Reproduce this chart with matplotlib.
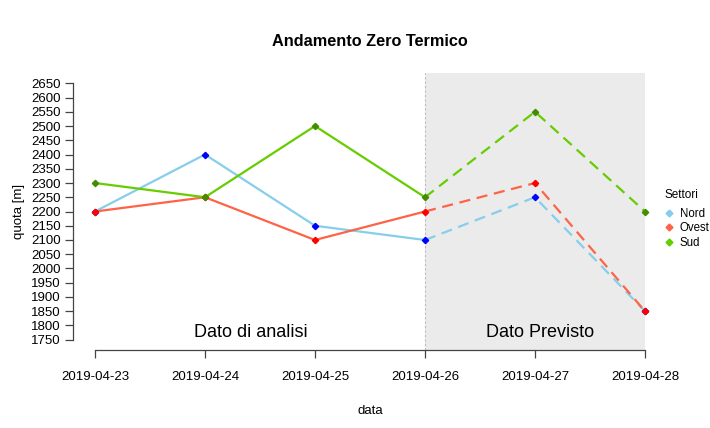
import matplotlib
matplotlib.use("Agg")
import matplotlib.pyplot as plt
from matplotlib.lines import Line2D

plt.rcParams['font.family'] = ['Liberation Sans', 'DejaVu Sans']

dates = ["2019-04-23", "2019-04-24", "2019-04-25", "2019-04-26", "2019-04-27", "2019-04-28"]
nord = [2200, 2400, 2150, 2100, 2250, 1850]
ovest = [2200, 2250, 2100, 2200, 2300, 1850]
sud = [2300, 2250, 2500, 2250, 2550, 2200]
series_names = ["Nord", "Ovest", "Sud"]
line_colors = ["#87CEEB", "#FF6347", "#66CD00"]
point_colors = ["#0000FF", "#FF0000", "#458B00"]
yticks = list(range(1750, 2651, 50))
split = 3  # index of last observed date

fig = plt.figure(figsize=(7.1, 4.28), dpi=100)
W, H = 710, 428
ax = fig.add_axes([73 / W, (H - 350) / H, (667 - 73) / W, (350 - 73) / H])

x = list(range(len(dates)))
ax.set_xlim(-0.2, 5.2)
ax.set_ylim(1714, 2686)

ax.axvspan(split, 5, color="#EBEBEB", zorder=0, lw=0)
ax.axvline(split, color="#BBBBBB", lw=0.8, ls=(0, (2, 2)), zorder=1)

for vals, lc, pc in zip([nord, ovest, sud], line_colors, point_colors):
    ax.plot(x[:split + 1], vals[:split + 1], color=lc, lw=1.6, zorder=2)
    ax.plot(x[split:], vals[split:], color=lc, lw=1.6, ls=(0, (5, 3)), zorder=2)
for vals, lc, pc in zip([nord, ovest, sud], line_colors, point_colors):
    ax.plot(x, vals, ls="none", marker="D", ms=3.2, color=pc, zorder=3)

ax.text(1.42, 1775, "Dato di analisi", ha="center", va="center", fontsize=13)
ax.text(4.05, 1775, "Dato Previsto", ha="center", va="center", fontsize=13)

for s in ["top", "right"]:
    ax.spines[s].set_visible(False)
ax.spines["left"].set_bounds(1750, 2650)
ax.spines["bottom"].set_bounds(0, 5)
for s in ["left", "bottom"]:
    ax.spines[s].set_color("#444444")
    ax.spines[s].set_linewidth(0.9)
ax.set_xticks(x)
ax.set_xticklabels(dates)
ax.set_yticks(yticks)
ax.set_yticklabels([str(v) for v in yticks])
ax.tick_params(axis="both", direction="out", length=6, color="#444444", labelsize=9.5, width=0.9)
ax.tick_params(axis="x", pad=9)
ax.tick_params(axis="y", pad=3)

ax.set_xlabel("data", fontsize=9.5, labelpad=16)
ax.set_ylabel("quota [m]", fontsize=9.5, labelpad=4)
fig.text(370 / W, 1 - 42 / H, "Andamento Zero Termico", ha="center", va="center",
         fontsize=11.7, fontweight="bold")

handles = [Line2D([], [], ls="none", marker="D", ms=3.5, color=c) for c in line_colors]
leg = fig.legend(handles, series_names, title="Settori", loc="upper left",
                 bbox_to_anchor=(659 / W, 1 - 183 / H), frameon=False, fontsize=8.3,
                 title_fontsize=8.5, handlelength=0.8, handletextpad=0.5, labelspacing=0.22,
                 borderpad=0)
leg._legend_box.align = "left"
leg._legend_box.sep = 5

fig.savefig("out.png", dpi=100)
